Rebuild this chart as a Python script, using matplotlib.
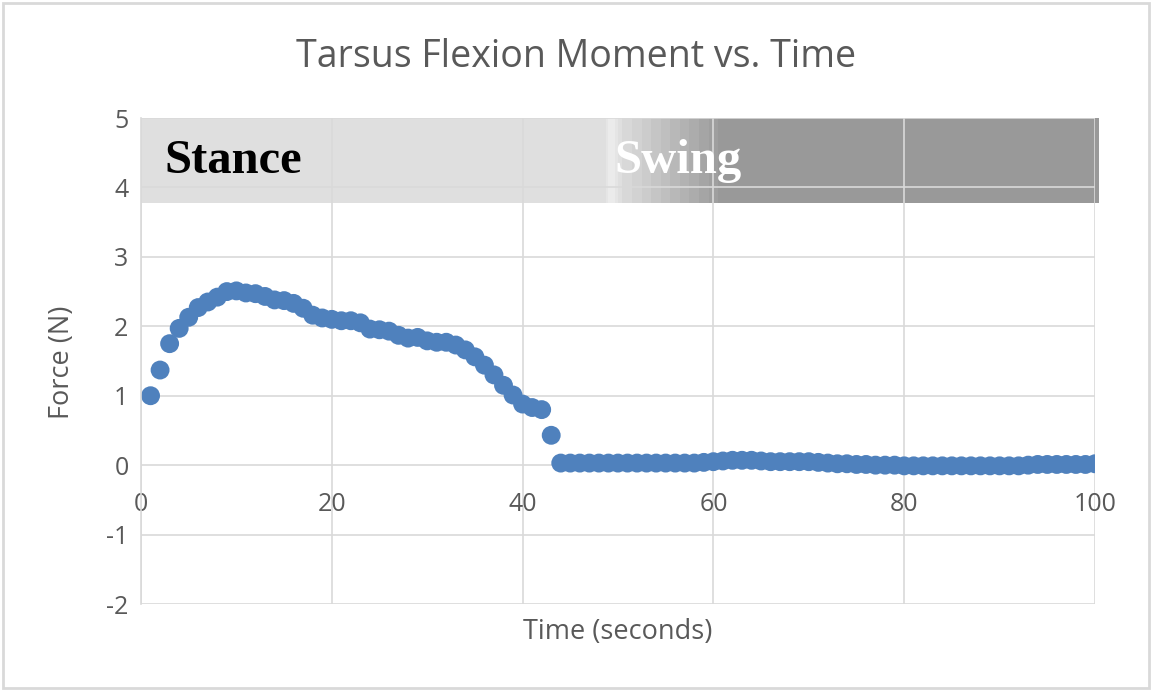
import numpy as np
import matplotlib.pyplot as plt
from matplotlib.patches import Rectangle

# tempo (s) e momento de flexão do tarso (N)
tempo = list(range(1, 101))
forca = [
    1.00, 1.37, 1.75, 1.97, 2.13, 2.27, 2.35, 2.42, 2.50, 2.51,
    2.48, 2.47, 2.43, 2.38, 2.37, 2.33, 2.26, 2.16, 2.12, 2.10,
    2.08, 2.08, 2.05, 1.96, 1.95, 1.93, 1.87, 1.83, 1.84, 1.79,
    1.77, 1.77, 1.73, 1.66, 1.56, 1.44, 1.30, 1.15, 1.01, 0.88,
    0.83, 0.80, 0.43, 0.03, 0.03, 0.03, 0.03, 0.03, 0.03, 0.03,
    0.03, 0.03, 0.03, 0.03, 0.03, 0.03, 0.03, 0.03, 0.04, 0.05,
    0.06, 0.07, 0.07, 0.07, 0.06, 0.05, 0.05, 0.05, 0.05, 0.05,
    0.04, 0.03, 0.02, 0.02, 0.01, 0.01, 0.00, 0.00, 0.00, -0.01,
    -0.01, -0.01, -0.01, -0.01, -0.01, -0.01, -0.01, -0.01, -0.01, -0.01,
    -0.01, -0.01, 0.00, 0.01, 0.01, 0.01, 0.01, 0.01, 0.01, 0.02,
]

# faixa de fases da marcha (apoio / balanço)
faixa_x = [0, 48.3, 49.2, 50.5, 61.0, 100.4]
faixa_cinza = [0.865, 0.865, 0.94, 0.86, 0.60, 0.60]

cor_texto = "#595959"
cor_grade = "#d9d9d9"

fig = plt.figure(figsize=(11.52, 6.91), dpi=100)
ax = fig.add_axes([0.1224, 0.1259, 0.8281, 0.7033])

# degradê da faixa superior
xs = np.linspace(0, 100.4, 400)
tons = np.interp(xs, faixa_x, faixa_cinza)
tons = np.round(tons * 40) / 40  # deixa o degradê em degraus
img = np.repeat(tons[None, :, None], 3, axis=2)
ax.imshow(img, extent=[0, 100.4, 3.78, 5.0], aspect="auto",
          interpolation="nearest", zorder=0.3, clip_on=False)

ax.text(2.5, 4.38, "Stance", family="Liberation Serif", weight="bold",
        fontsize=35, color="black", va="center", ha="left", zorder=3)
ax.text(49.6, 4.38, "Swing", family="Liberation Serif", weight="bold",
        fontsize=35, color="white", va="center", ha="left", zorder=3)

ax.scatter(tempo, forca, s=185, color="#4f81bd", edgecolors="none", zorder=2)

ax.set_xlim(0, 100)
ax.set_ylim(-2, 5)
ax.set_xticks(range(0, 101, 20))
ax.set_yticks(range(-2, 6), [str(v) for v in range(-2, 6)])
ax.set_axisbelow(True)
ax.grid(True, color=cor_grade, linewidth=1.2, zorder=0.5)

for lado in ["top", "right", "bottom"]:
    ax.spines[lado].set_visible(False)
ax.spines["left"].set_color(cor_grade)
ax.spines["left"].set_linewidth(1.2)
ax.spines["bottom"].set_position(("data", 0))

ax.tick_params(axis="both", length=0, labelsize=18, labelcolor=cor_texto,
               labelfontfamily="Open Sans")
ax.tick_params(axis="x", pad=19)
ax.tick_params(axis="y", pad=9)

fig.text(0.5, 0.918, "Tarsus Flexion Moment vs. Time", family="Open Sans",
         fontsize=27, color=cor_texto, ha="center", va="center")
fig.text(0.536, 0.085, "Time (seconds)", family="Open Sans", fontsize=19.5,
         color=cor_texto, ha="center", va="center")
fig.text(0.054, 0.475, "Force (N)", family="Open Sans", fontsize=19.5,
         color=cor_texto, ha="center", va="center", rotation=90)

# moldura externa do gráfico
fig.patches.append(Rectangle((0.003, 0.004), 0.994, 0.992, transform=fig.transFigure,
                             fill=False, edgecolor="#d9d9d9", linewidth=2))

fig.savefig("out.png", dpi=100)
